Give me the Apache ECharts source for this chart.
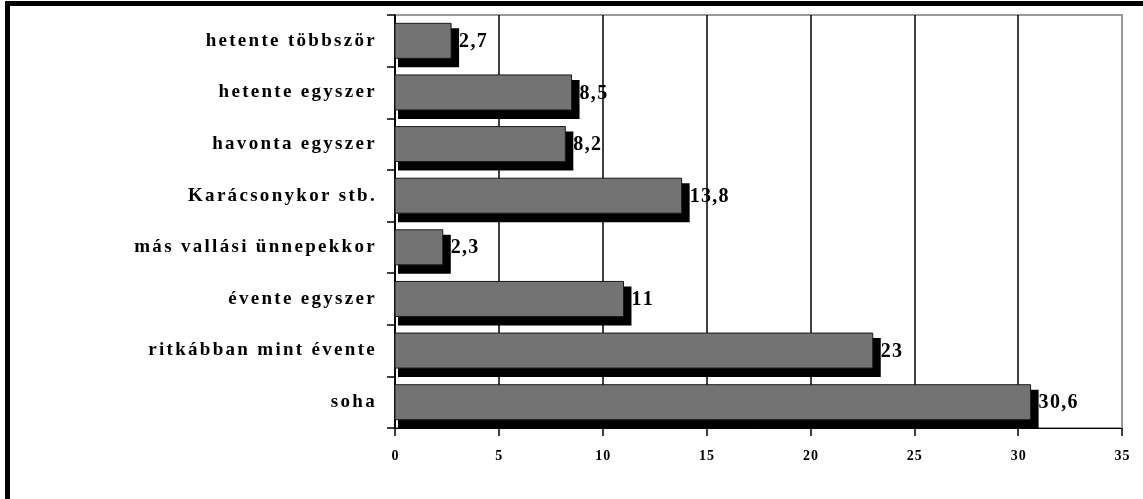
<!DOCTYPE html>
<html>
<head>
<meta charset="utf-8">
<script src="https://cdn.jsdelivr.net/npm/echarts@6/dist/echarts.min.js"></script>
<style>
  html, body { margin: 0; padding: 0; background: #fff; }
  #chart { width: 1143px; height: 499px; }
</style>
</head>
<body>
<div id="chart"></div>
<script>
// Answer categories, top to bottom
const categories = [
  'hetente többször',
  'hetente egyszer',
  'havonta egyszer',
  'Karácsonykor stb.',
  'más vallási ünnepekkor',
  'évente egyszer',
  'ritkábban mint évente',
  'soha'
];
// Percentages per category
const values = [2.7, 8.5, 8.2, 13.8, 2.3, 11, 23, 30.6];
// Value axis range
const axisMin = 0;
const axisMax = 35;
const axisStep = 5;

const SERIF = '"Liberation Serif", "Times New Roman", serif';
const BAR_H = 35;

// Spread the letters out by wrapping each one in its own rich-text box
function spaced(text, style) {
  return String(text).split('').map(ch => '{' + style + '|' + ch + '}').join('');
}
function fmtNum(v) {
  return String(v).replace('.', ',');
}

// Bar with a solid black drop shadow and its value label
function renderBar(params, api) {
  const v = api.value(0);
  const idx = api.value(1);
  const p0 = api.coord([0, idx]);
  const p1 = api.coord([v, idx]);
  const x = p0[0];
  const y = p0[1] - BAR_H / 2;
  const w = p1[0] - p0[0];
  return {
    type: 'group',
    children: [
      {
        type: 'rect',
        shape: { x: x + 3, y: y + 5, width: w + 5, height: BAR_H + 4 },
        style: { fill: '#000' }
      },
      {
        type: 'rect',
        shape: { x: x, y: y, width: w, height: BAR_H },
        style: { fill: '#737373', stroke: '#1a1a1a', lineWidth: 1 }
      },
      {
        type: 'text',
        x: p1[0] + 8,
        y: p1[1] + 1,
        style: {
          text: spaced(fmtNum(v), 'v'),
          verticalAlign: 'middle',
          align: 'left',
          rich: {
            v: { fontFamily: SERIF, fontWeight: 'bold', fontSize: 20, fill: '#000', padding: [0, 1.3, 0, 0] }
          }
        }
      }
    ]
  };
}

const chart = echarts.init(document.getElementById('chart'), null, { renderer: 'canvas' });

chart.setOption({
  animation: false,
  backgroundColor: '#fff',
  graphic: [
    {
      type: 'rect',
      silent: true,
      z: 100,
      shape: { x: 7.5, y: 3.5, width: 1300, height: 700 },
      style: { fill: 'none', stroke: '#000', lineWidth: 5 }
    }
  ],
  grid: {
    left: 395,
    right: 21,
    top: 15,
    bottom: 71,
    show: true,
    borderColor: '#9a9a9a',
    borderWidth: 2,
    backgroundColor: '#fff'
  },
  xAxis: {
    type: 'value',
    min: axisMin,
    max: axisMax,
    interval: axisStep,
    axisLine: { show: true, lineStyle: { color: '#000', width: 1 } },
    axisTick: { show: true, length: 8, lineStyle: { color: '#000', width: 1.5 } },
    splitLine: { show: true, showMaxLine: false, lineStyle: { color: '#000', width: 1.5 } },
    axisLabel: {
      margin: 21,
      formatter: v => spaced(v, 't'),
      rich: {
        t: { fontFamily: SERIF, fontWeight: 'bold', fontSize: 14, color: '#000', padding: [0, 0.5, 0, 0.5] }
      }
    }
  },
  yAxis: {
    type: 'category',
    data: categories,
    inverse: true,
    axisLine: { show: true, lineStyle: { color: '#000', width: 1.5 } },
    axisTick: { show: true, length: 8, lineStyle: { color: '#000', width: 1.5 } },
    splitLine: { show: false },
    axisLabel: {
      margin: 18,
      formatter: v => spaced(v, 'c'),
      rich: {
        c: { fontFamily: SERIF, fontWeight: 'bold', fontSize: 19, color: '#000', padding: [0, 2.3, 0, 0] }
      }
    }
  },
  series: [
    {
      type: 'custom',
      renderItem: renderBar,
      encode: { x: 0, y: 1 },
      data: values.map((v, i) => [v, i]),
      z: 3
    }
  ]
});
</script>
</body>
</html>
